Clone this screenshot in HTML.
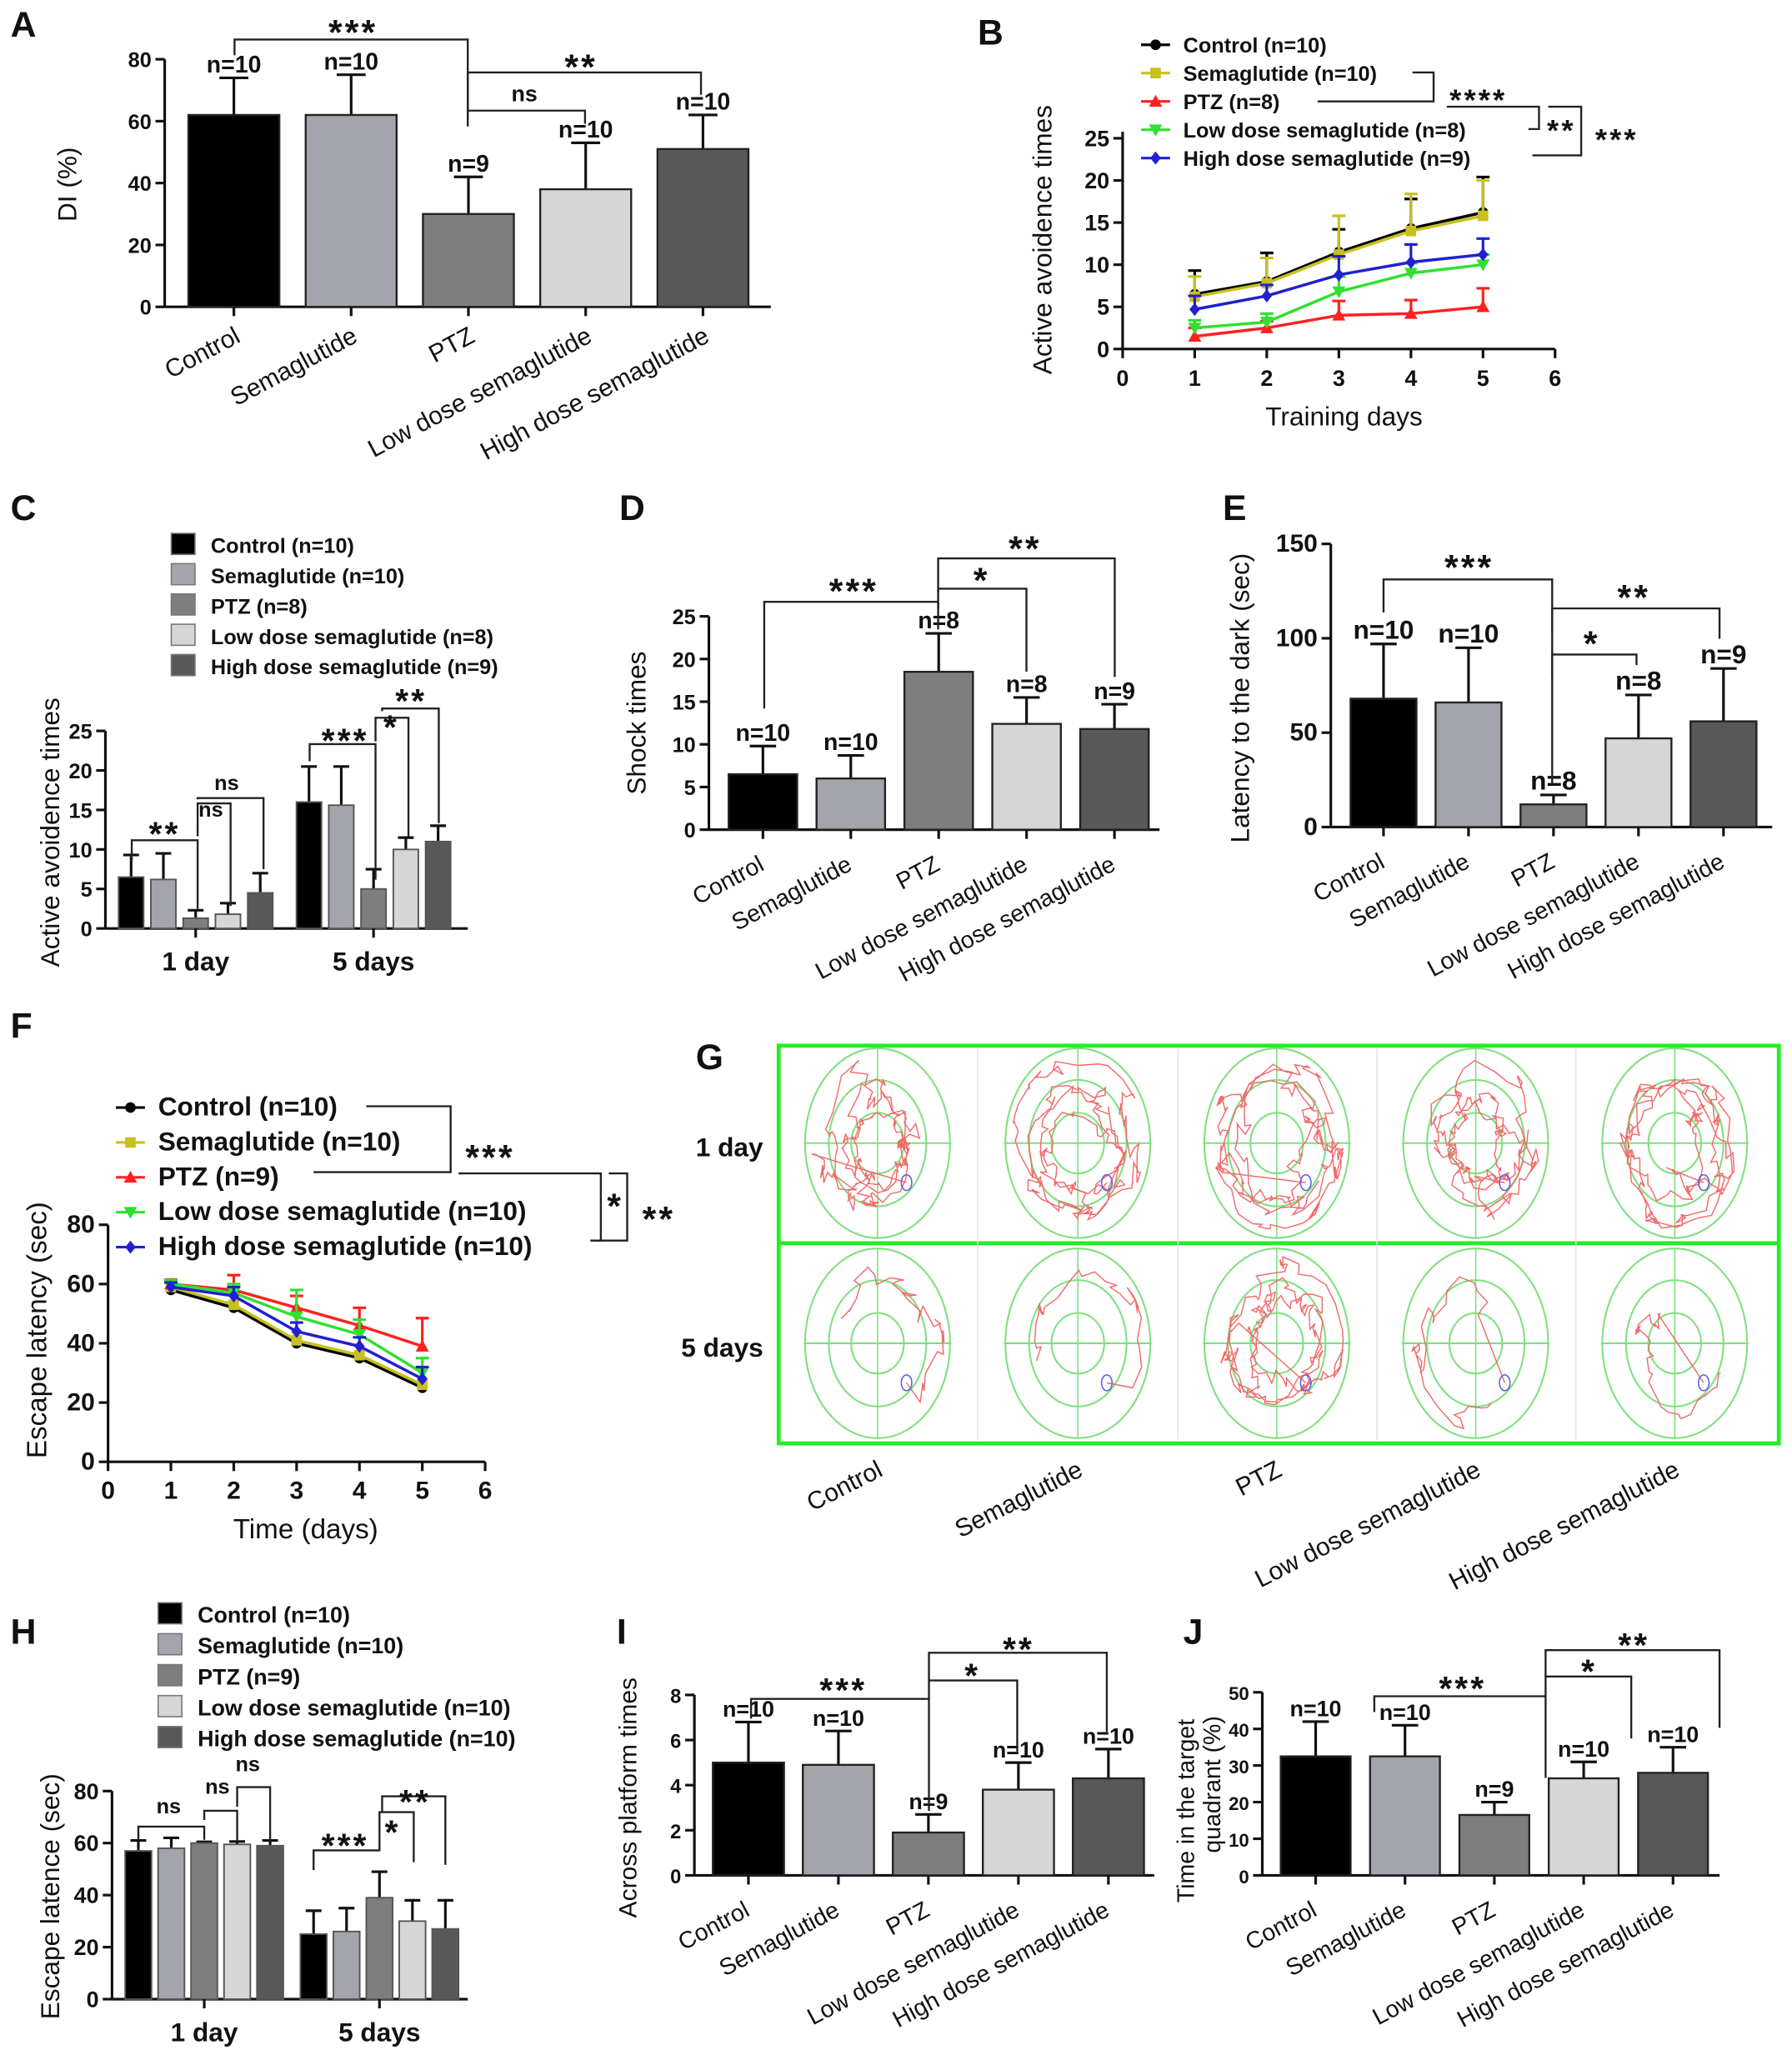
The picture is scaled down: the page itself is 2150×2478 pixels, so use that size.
<!DOCTYPE html>
<html><head><meta charset="utf-8"><style>
html,body{margin:0;padding:0;background:#fff;}
svg{display:block;}
text{font-family:"Liberation Sans",Arial,sans-serif;fill:#111;}
</style></head><body>
<svg id="fig" width="2150" height="2478" viewBox="0 0 1360 1568" preserveAspectRatio="none" xmlns="http://www.w3.org/2000/svg"></svg>
<script>
const groups=["Control","Semaglutide","PTZ","Low dose semaglutide","High dose semaglutide"];
const barColors=["#000000","#a4a4ac","#7e7e7e","#d6d6d6","#585858"];
const lineColors=["#000000","#c8c020","#ff2020","#30e030","#2020d0"];
// Panel A
const aVals=[62,62,30,38,51];const aErr=[74,75,42,53,62];const aN=["n=10","n=10","n=9","n=10","n=10"];const aTicks=[0,20,40,60,80];
// Panel B
const bDays=[1,2,3,4,5];const bXTicks=[0,1,2,3,4,5,6];const bYTicks=[0,5,10,15,20,25];
const bCtrl=[6.5,8,11.5,14.3,16.2];const bCtrlE=[9.3,11.4,14.2,17.8,20.4];
const bSema=[6.2,7.8,11.2,14,15.8];const bSemaE=[8.6,10.8,15.8,18.4,20];
const bPtz=[1.5,2.5,4,4.2,5];const bPtzE=[2.5,3.3,5.7,5.8,7.2];
const bLow=[2.5,3.2,6.8,9,10];const bLowE=[3.4,4.2,8.6,10.2,11.2];
const bHigh=[4.7,6.3,8.8,10.3,11.2];const bHighE=[6.3,7.6,11,12.4,13.1];
const bLegend=["Control (n=10)","Semaglutide (n=10)","PTZ (n=8)","Low dose semaglutide (n=8)","High dose semaglutide (n=9)"];
// Panel C
const cDays=["1 day","5 days"];const cTicks=[0,5,10,15,20,25];
const c1=[6.5,6.2,1.3,1.8,4.5];const c1E=[9.3,9.5,2.3,3.2,7];
const c5=[16,15.6,5,10,11];const c5E=[20.5,20.5,7.5,11.5,13];
const cLegend=["Control (n=10)","Semaglutide (n=10)","PTZ (n=8)","Low dose semaglutide (n=8)","High dose semaglutide (n=9)"];
// Panel D
const dVals=[6.5,6,18.5,12.4,11.8];const dErr=[9.8,8.7,23,15.5,14.7];const dN=["n=10","n=10","n=8","n=8","n=9"];const dTicks=[0,5,10,15,20,25];
// Panel E
const eVals=[68,66,12,47,56];const eErr=[97,95,17,70,84];const eN=["n=10","n=10","n=8","n=8","n=9"];const eTicks=[0,50,100,150];
// Panel F
const fDays=[1,2,3,4,5];const fXTicks=[0,1,2,3,4,5,6];const fYTicks=[0,20,40,60,80];
const fCtrl=[58,52,40,35,25];const fSema=[59,53,41,36,26];const fPtz=[60,58,52,46,39];const fLow=[60,57,49,43,30];const fHigh=[59,56,44,39,28];
const fPtzE=[61.5,63,56,52,48.5];const fLowE=[61,60,58,48,35];const fHighE=[60.5,59,47,42,32];
const fLegend=["Control (n=10)","Semaglutide (n=10)","PTZ (n=9)","Low dose semaglutide (n=10)","High dose semaglutide (n=10)"];
// Panel H
const hTicks=[0,20,40,60,80];
const h1=[57,58,60,59.5,59];const h1E=[61,62,60.5,60.6,61];
const h5=[25,26,39,30,27];const h5E=[34,35,49,38,38];
const hLegend=["Control  (n=10)","Semaglutide  (n=10)","PTZ (n=9)","Low dose semaglutide (n=10)","High dose semaglutide (n=10)"];
// Panel I
const iVals=[5,4.9,1.9,3.8,4.3];const iErr=[6.8,6.4,2.7,5,5.6];const iN=["n=10","n=10","n=9","n=10","n=10"];const iTicks=[0,2,4,6,8];
// Panel J
const jVals=[32.5,32.5,16.5,26.5,28];const jErr=[42,41,20,31,35];const jN=["n=10","n=10","n=9","n=10","n=10"];const jTicks=[0,10,20,30,40,50];

const NS='http://www.w3.org/2000/svg';
const svg=document.getElementById('fig');
function mk(tag,a,p){const e=document.createElementNS(NS,tag);for(const k in a)e.setAttribute(k,a[k]);(p||svg).appendChild(e);return e;}
function tx(x,y,s,a,p){const e=mk('text',Object.assign({x:x,y:y},a||{}),p);e.textContent=s;return e;}
function grp(name){const g=mk('g',{});
return g;}
function letter(s,x,y){const t=tx(x,y,s,{'font-size':27,'font-weight':'bold'});

}
function ytitle(g,s,x,cy,fs){const t=tx(x,cy,s,{'font-size':fs||20,'text-anchor':'middle',transform:'rotate(-90 '+x+' '+cy+')'},g);

return t;}
function yAxis(g,ax,y0,yTop,max,ticks,fs,top){
 const sy=v=>y0-v/max*(y0-yTop);
 const l=mk('line',{x1:ax,y1:y0,x2:ax,y2:top!==undefined?top:yTop,stroke:'#111','stroke-width':2},g);
 
 
 ticks.forEach(t=>{mk('line',{x1:ax-7,x2:ax,y1:sy(t),y2:sy(t),stroke:'#111','stroke-width':2},g);
  const tt=tx(ax-10,sy(t)+6,String(t),{'font-size':fs||16,'font-weight':'bold','text-anchor':'end'},g);
  
  });
 return sy;}
function bracket(g,pts,label,lx,ly,fs){
 const p=mk('polyline',{points:pts.map(q=>q.join(',')).join(' '),fill:'none',stroke:'#222','stroke-width':1.5},g);
 
 
 const star=label.indexOf('*')>=0;
 const t=tx(lx,ly+(star?8:0),label,{'font-size':star?(fs||20)*1.35:(fs||20),'font-weight':'bold','text-anchor':'middle','letter-spacing':star?2:0},g);
 
 }
function errbar(g,x,yv,ye,cap,col){
 mk('line',{x1:x,x2:x,y1:yv,y2:ye,stroke:col||'#111','stroke-width':2},g);
 mk('line',{x1:x-cap,x2:x+cap,y1:ye,y2:ye,stroke:col||'#111','stroke-width':2},g);}
function barPanel(name,c,vals,errs,ns){
 const g=grp(name);
 const sy=yAxis(g,c.ax,c.y0,c.yTop,c.max,c.ticks,c.tfs);
 const xl=mk('line',{x1:c.ax,x2:c.xEnd,y1:c.y0,y2:c.y0,stroke:'#111','stroke-width':2},g);
 
 
 vals.forEach((v,i)=>{const x=c.x0+i*c.step;const cx=x+c.w/2;
  errbar(g,cx,sy(v),sy(errs[i]),c.cap||10);
  const r=mk('rect',{x:x,y:sy(v),width:c.w,height:c.y0-sy(v),fill:barColors[i],stroke:'#222','stroke-width':1.5},g);
  
  
  mk('line',{x1:cx,x2:cx,y1:c.y0,y2:c.y0+7,stroke:'#111','stroke-width':2},g);
  const n=tx(cx,sy(errs[i])-4,ns[i],{'font-size':c.nfs||18,'font-weight':'bold','text-anchor':'middle'},g);
  
  
  const lx=cx+c.lx,ly=c.y0+c.ly;
  const t=tx(lx,ly,groups[i],{'font-size':c.lfs||19,'text-anchor':'end',transform:'rotate(-28 '+lx+' '+ly+')'},g);
  
  });
 return g;}
function groupedPanel(name,c,d1,e1,d5,e5){
 const g=grp(name);
 const sy=yAxis(g,c.ax,c.y0,c.yTop,c.max,c.ticks,c.tfs);
 const xl=mk('line',{x1:c.ax,x2:c.xEnd,y1:c.y0,y2:c.y0,stroke:'#111','stroke-width':2},g);
 
 
 [[d1,e1,c.g1],[d5,e5,c.g2]].forEach((s,gi)=>{
  s[0].forEach((v,i)=>{const x=s[2]+i*c.step;const cx=x+c.w/2;
   errbar(g,cx,sy(v),sy(s[1][i]),6);
   const r=mk('rect',{x:x,y:sy(v),width:c.w,height:c.y0-sy(v),fill:barColors[i],stroke:'#555','stroke-width':1.2},g);
   
   });
  const gc=s[2]+(4*c.step+c.w)/2;
  mk('line',{x1:gc,x2:gc,y1:c.y0,y2:c.y0+7,stroke:'#111','stroke-width':2},g);
  const t=tx(gc,c.y0+32,cDays[gi],{'font-size':20,'font-weight':'bold','text-anchor':'middle'},g);
  
  });
 return g;}
function boxLegend(g,labels,x,y0,dy,fs){
 labels.forEach((s,i)=>{const r=mk('rect',{x:x,y:y0+i*dy-15,width:18,height:16,fill:barColors[i],stroke:'#777','stroke-width':1},g);
  
  
  const t=tx(x+30,y0+i*dy,s,{'font-size':fs,'font-weight':'bold'},g);
  
  });}
function marker(g,k,x,y,col){
 if(k===0)mk('circle',{cx:x,cy:y,r:4,fill:col},g);
 else if(k===1)mk('rect',{x:x-4,y:y-4,width:8,height:8,fill:col},g);
 else if(k===2)mk('polygon',{points:(x)+','+(y-5)+' '+(x-5)+','+(y+4)+' '+(x+5)+','+(y+4),fill:col},g);
 else if(k===3)mk('polygon',{points:(x)+','+(y+5)+' '+(x-5)+','+(y-4)+' '+(x+5)+','+(y-4),fill:col},g);
 else mk('polygon',{points:x+','+(y-5)+' '+(x+4)+','+y+' '+x+','+(y+5)+' '+(x-4)+','+y,fill:col},g);}
function linePanel(name,c,xs,series,errs){
 const g=grp(name);
 const sx=v=>c.x0+v*c.px;
 const sy=yAxis(g,sx(0),c.y0,c.yTop,c.max,c.yticks,c.tfs,c.axTop);
 const xl=mk('line',{x1:sx(0),x2:sx(6),y1:c.y0,y2:c.y0,stroke:'#111','stroke-width':2},g);
 
 
 c.xticks.forEach(t=>{mk('line',{x1:sx(t),x2:sx(t),y1:c.y0,y2:c.y0+7,stroke:'#111','stroke-width':2},g);
  const tt=tx(sx(t),c.y0+28,String(t),{'font-size':c.tfs||18,'font-weight':'bold','text-anchor':'middle'},g);
  
  });
 series.forEach((s,k)=>{
  if(errs[k])s.forEach((v,i)=>errbar(g,sx(xs[i]),sy(v),sy(errs[k][i]),5,lineColors[k]));
  const p=mk('polyline',{points:s.map((v,i)=>sx(xs[i])+','+sy(v)).join(' '),fill:'none',stroke:lineColors[k],'stroke-width':2.2},g);
  
  
  s.forEach((v,i)=>marker(g,k,sx(xs[i]),sy(v),lineColors[k]));});
 return g;}
function lineLegend(g,labels,x,y0,dy,fs){
 labels.forEach((s,i)=>{const y=y0+i*dy-6;
  mk('line',{x1:x,x2:x+22,y1:y,y2:y,stroke:lineColors[i],'stroke-width':2},g);
  marker(g,i,x+11,y,lineColors[i]);
  const t=tx(x+32,y0+i*dy,s,{'font-size':fs,'font-weight':'bold'},g);
  
  });}

// ---- A ----
letter('A',8,28);
const gA=barPanel('panel-a-di-chart',{ax:125,y0:233,yTop:45,max:80,ticks:aTicks,x0:143,step:89,w:69,xEnd:585,cap:11,lx:6,ly:26,lfs:19,nfs:18},aVals,aErr,aN);
ytitle(gA,'DI (%)',58,140,20);
bracket(gA,[[178,42],[178,30],[355,30],[355,88]],'***',268,26,20);
bracket(gA,[[355,90],[355,55],[532,55],[532,72]],'**',441,52,20);
bracket(gA,[[355,96],[355,84],[444,84],[444,94]],'ns',398,77,17);
// ---- B ----
letter('B',742,34);
const gB=linePanel('panel-b-line-chart',{x0:852,px:54.7,y0:265,yTop:105,max:25,yticks:bYTicks,xticks:bXTicks,tfs:17,axTop:100},bDays,[bCtrl,bSema,bPtz,bLow,bHigh],[bCtrlE,bSemaE,bPtzE,bLowE,bHighE]);
lineLegend(gB,bLegend,866,40,21.5,16);
ytitle(gB,'Active avoidence times',798,182,20);
const tB=tx(1020,323,'Training days',{'font-size':20,'text-anchor':'middle'},gB);


bracket(gB,[[1072,55],[1088,55],[1088,77],[1000,77]],'****',1122,76,17);
bracket(gB,[[1098,81],[1168,81],[1168,98],[1160,98]],'**',1185,99,17);
bracket(gB,[[1175,81],[1200,81],[1200,118],[1163,118]],'***',1227,106,17);
// ---- C ----
letter('C',8,395);
const gC=groupedPanel('panel-c-grouped-bars',{ax:80,y0:705,yTop:555,max:25,ticks:cTicks,step:24.5,w:19,g1:90,g2:225,xEnd:355,tfs:16},c1,c1E,c5,c5E);
boxLegend(gC,cLegend,130,420,23,16);
ytitle(gC,'Active avoidence times',45,632,20);
bracket(gC,[[100,654],[100,638],[150,638],[150,690]],'**',125,634,19);
bracket(gC,[[150,635],[150,610],[175,610],[175,688]],'ns',160,620,16);
bracket(gC,[[150,607],[150,606],[200,606],[200,660]],'ns',172,600,16);
bracket(gC,[[235,578],[235,565],[285,565],[285,668]],'***',262,563,19);
bracket(gC,[[285,563],[285,545],[310,545],[310,635]],'*',297,553,19);
bracket(gC,[[290,540],[290,538],[333,538],[333,625]],'**',312,533,19);
// ---- D ----
letter('D',470,395);
const gD=barPanel('panel-d-shock-times',{ax:538,y0:630,yTop:468,max:25,ticks:dTicks,x0:553,step:66.7,w:52,xEnd:880,cap:10,lx:2,ly:30,lfs:18,nfs:18},dVals,dErr,dN);
ytitle(gD,'Shock times',490,549,20);
bracket(gD,[[580,538],[580,457],[712,457],[712,478]],'***',648,450,20);
bracket(gD,[[712,462],[712,447],[779,447],[779,510]],'*',745,442,20);
bracket(gD,[[712,450],[712,424],[846,424],[846,514]],'**',778,418,20);
// ---- E ----
letter('E',928,395);
const gE=barPanel('panel-e-latency',{ax:1010,y0:628,yTop:413,max:150,ticks:eTicks,x0:1025,step:64.5,w:50,xEnd:1345,cap:10,lx:2,ly:30,lfs:18,nfs:20,tfs:19},eVals,eErr,eN);
ytitle(gE,'Latency to the dark (sec)',948,530,20);
bracket(gE,[[1050,465],[1050,440],[1178,440],[1178,595]],'***',1115,432,20);
bracket(gE,[[1178,515],[1178,497],[1242,497],[1242,505]],'*',1208,490,20);
bracket(gE,[[1178,480],[1178,462],[1305,462],[1305,485]],'**',1240,455,20);
// ---- F ----
letter('F',8,788);
const gF=linePanel('panel-f-escape-latency',{x0:82,px:47.7,y0:1110,yTop:930,max:80,yticks:fYTicks,xticks:fXTicks,tfs:19},fDays,[fCtrl,fSema,fPtz,fLow,fHigh],[null,null,fPtzE,fLowE,fHighE]);
lineLegend(gF,fLegend,88,847,26.5,20);
ytitle(gF,'Escape latency (sec)',35,1010,21);
const tF=tx(232,1168,'Time (days)',{'font-size':21,'text-anchor':'middle'},gF);


bracket(gF,[[278,840],[342,840],[342,890],[238,890]],'***',372,880,20);
bracket(gF,[[348,891],[456,891],[456,942],[448,942]],'*',467,917,20);
bracket(gF,[[462,891],[476,891],[476,942],[452,942]],'**',500,927,20);
// ---- G ----
letter('G',528,812);
const gG=grp('panel-g-swim-paths');
const cellX=[666,818,969,1120,1271];const cellY=[868,1020];
cellX.forEach((cx,i)=>{cellY.forEach((cy,j)=>{
 const c=grp('swim-path-'+groups[i].toLowerCase().replace(/ /g,'-')+'-'+(j?'5-days':'1-day'));gG.appendChild(c);
 [[55,72],[37,48],[20,23]].forEach(r=>mk('ellipse',{cx:cx,cy:cy,rx:r[0],ry:r[1],fill:'none',stroke:'#7ee07e','stroke-width':1.3},c));
 mk('line',{x1:cx-56,x2:cx+56,y1:cy,y2:cy,stroke:'#7ee07e','stroke-width':1.3},c);
 mk('line',{x1:cx,x2:cx,y1:cy-72,y2:cy+72,stroke:'#7ee07e','stroke-width':1},c);
 let seed=(i+1)*97+(j+1)*31;const rnd=()=>{seed=(seed*9301+49297)%233280;return seed/233280;};
 const busy=(j===0||i===2);const n=busy?220:35;let pts=[];let a=rnd()*6.28,rr=0.7;
 for(let k=0;k<n;k++){a+=(rnd()-0.3)*0.5;rr=Math.min(0.97,Math.max(busy?0.3:0.1,rr+(rnd()-0.5)*0.22));
  pts.push((cx+Math.cos(a)*rr*52).toFixed(1)+','+(cy+Math.sin(a)*rr*68).toFixed(1));}
 pts.push((cx+22)+','+(cy+30));
 mk('polyline',{points:pts.join(' '),fill:'none',stroke:'#f06a6a','stroke-width':0.9},c);
 mk('ellipse',{cx:cx+22,cy:cy+30,rx:4,ry:6,fill:'none',stroke:'#6060e0','stroke-width':1},c);});});
const gb=mk('rect',{x:591,y:794,width:759,height:302,fill:'none',stroke:'#22ee22','stroke-width':3},gG);


mk('line',{x1:591,x2:1350,y1:944,y2:944,stroke:'#22ee22','stroke-width':3},gG);
[742,894,1045,1196].forEach(x=>mk('line',{x1:x,x2:x,y1:796,y2:1094,stroke:'#dde8e8','stroke-width':1},gG));
const g1=tx(528,878,'1 day',{'font-size':20,'font-weight':'bold'},gG);


const g5=tx(517,1030,'5 days',{'font-size':20,'font-weight':'bold'},gG);


cellX.forEach((cx,i)=>{const lx=cx+5,ly=1120;
 const t=tx(lx,ly,groups[i],{'font-size':19,'text-anchor':'end',transform:'rotate(-27 '+lx+' '+ly+')'},gG);
 
 });
// ---- H ----
letter('H',8,1248);
const gH=groupedPanel('panel-h-escape-latence',{ax:85,y0:1518,yTop:1360,max:80,ticks:hTicks,step:25,w:20,g1:95,g2:228,xEnd:355,tfs:17},h1,h1E,h5,h5E);
boxLegend(gH,hLegend,120,1232,23.5,17);
ytitle(gH,'Escape latence (sec)',45,1440,20);
bracket(gH,[[105,1397],[105,1387],[155,1387],[155,1397]],'ns',128,1377,16);
bracket(gH,[[155,1382],[155,1375],[180,1375],[180,1398]],'ns',165,1362,16);
bracket(gH,[[180,1372],[180,1357],[205,1357],[205,1398]],'ns',188,1345,16);
bracket(gH,[[238,1420],[238,1405],[288,1405],[288,1395]],'***',262,1402,19);
bracket(gH,[[288,1395],[288,1376],[314,1376],[314,1414]],'*',298,1392,19);
bracket(gH,[[290,1376],[290,1364],[338,1364],[338,1416]],'**',315,1369,19);
// ---- I ----
letter('I',468,1248);
const gI=barPanel('panel-i-platform-crossings',{ax:527,y0:1424,yTop:1287,max:8,ticks:iTicks,x0:541,step:68.3,w:54,xEnd:876,cap:10,lx:2,ly:30,lfs:18,nfs:17,tfs:15},iVals,iErr,iN);
ytitle(gI,'Across platform times',483,1365,19);
bracket(gI,[[570,1305],[570,1290],[705,1290],[705,1375]],'***',640,1284,19);
bracket(gI,[[705,1290],[705,1276],[772,1276],[772,1330]],'*',738,1273,19);
bracket(gI,[[705,1276],[705,1255],[840,1255],[840,1315]],'**',773,1253,19);
// ---- J ----
letter('J',898,1248);
const gJ=barPanel('panel-j-target-quadrant',{ax:958,y0:1424,yTop:1285,max:50,ticks:jTicks,x0:972,step:67.8,w:53,xEnd:1305,cap:10,lx:2,ly:30,lfs:18,nfs:17,tfs:14},jVals,jErr,jN);
ytitle(gJ,'Time in the target',906,1375,18);
ytitle(gJ,'quadrant (%)',926,1355,18);
bracket(gJ,[[1043,1300],[1043,1288],[1173,1288],[1173,1350]],'***',1110,1283,19);
bracket(gJ,[[1173,1288],[1173,1273],[1238,1273],[1238,1320]],'*',1206,1270,19);
bracket(gJ,[[1173,1273],[1173,1253],[1305,1253],[1305,1312]],'**',1240,1250,19);
</script>
</body></html>
